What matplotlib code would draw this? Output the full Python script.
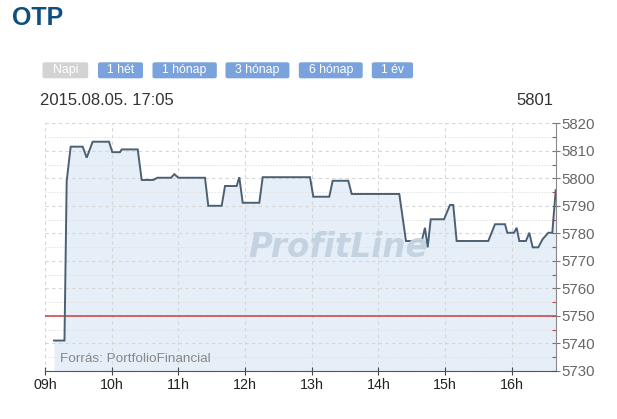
import matplotlib
matplotlib.use("Agg")
import matplotlib.pyplot as plt
from matplotlib.patches import FancyBboxPatch
from matplotlib.ticker import MultipleLocator

plt.rcParams['font.family'] = ['Liberation Sans', 'DejaVu Sans']

# ---- data ----
title = "OTP"
timestamp = "2015.08.05. 17:05"
last_price = "5801"
source_text = "Forrás: PortfolioFinancial"
watermark = "ProfitLine"
buttons = ["Napi", "1 hét", "1 hónap", "3 hónap", "6 hónap", "1 év"]
reference_price = 5750

times = [9.135, 9.292, 9.325, 9.385, 9.565, 9.625, 9.715, 9.960, 10.009, 10.124,
         10.150, 10.390, 10.450, 10.624, 10.684, 10.889, 10.939, 10.999, 11.399, 11.448,
         11.649, 11.699, 11.874, 11.913, 11.964, 12.213, 12.264, 12.973, 13.023, 13.262,
         13.313, 13.547, 13.598, 14.312, 14.412, 14.648, 14.697, 14.738, 14.783, 14.982,
         15.072, 15.121, 15.172, 15.646, 15.747, 15.897, 15.931, 16.031, 16.072, 16.111,
         16.211, 16.261, 16.312, 16.396, 16.462, 16.546, 16.606, 16.657]
prices = [5741, 5741, 5799, 5811.5, 5811.5, 5807.5, 5813.3, 5813.3, 5809.5, 5809.5,
          5810.5, 5810.5, 5799.4, 5799.4, 5800.2, 5800.2, 5801.5, 5800.2, 5800.2, 5790,
          5790, 5797.2, 5797.2, 5800.4, 5791.1, 5791.1, 5800.4, 5800.4, 5793.3, 5793.3,
          5799.1, 5799.1, 5794.3, 5794.3, 5777.2, 5777.2, 5782, 5774.9, 5785.1, 5785.1,
          5790.3, 5790.3, 5777.2, 5777.2, 5783.3, 5783.3, 5780.2, 5780.2, 5782, 5777.2,
          5777.2, 5780.2, 5774.9, 5774.9, 5777.9, 5780.2, 5780.2, 5795.7]
hour_ticks = [9, 10, 11, 12, 13, 14, 15, 16]
hour_labels = ["09h", "10h", "11h", "12h", "13h", "14h", "15h", "16h"]
y_min, y_max = 5730, 5820

W, H = 617, 419
fig = plt.figure(figsize=(W / 100, H / 100), dpi=100)
fig.patch.set_facecolor('white')

def fx(x):
    return x / W

def fy(y):
    return 1 - y / H

# ---- header ----
fig.text(fx(12), fy(25), title, fontsize=18, fontweight='bold', color='#0f4f80',
         ha='left', va='baseline')

btn_x = [(42.5, 88.2), (98, 143), (152.5, 216.8), (225.5, 289.4), (298.8, 362.7), (371.8, 413)]
for i, (lbl, (x0, x1)) in enumerate(zip(buttons, btn_x)):
    col = '#d3d3d3' if i == 0 else '#7aa2dc'
    p = FancyBboxPatch((fx(x0), fy(78.3)), fx(x1) - fx(x0), fy(62.3) - fy(78.3),
                       boxstyle="round,pad=0,rounding_size=0.004",
                       transform=fig.transFigure, facecolor=col, edgecolor='none')
    fig.add_artist(p)
    fig.text(fx((x0 + x1) / 2), fy(70.3), lbl, fontsize=8.8, color='white',
             ha='center', va='center')

fig.text(fx(40), fy(105), timestamp, fontsize=12, color='#333333', ha='left', va='baseline')
fig.text(fx(553), fy(105), last_price, fontsize=12, color='#333333', ha='right', va='baseline')

# ---- chart ----
ax_left, ax_right, ax_top, ax_bottom = 45, 555.7, 123.3, 370.8
ax = fig.add_axes([fx(ax_left), fy(ax_bottom), fx(ax_right) - fx(ax_left),
                   fy(ax_top) - fy(ax_bottom)])
ax.set_facecolor('white')
ax.set_xlim(9.0, times[-1])
ax.set_ylim(y_min, y_max)

ax.fill_between(times, prices, y_min, color='#e6eef7', zorder=1, linewidth=0)
ax.plot(times, prices, color='#4c6073', linewidth=1.4, zorder=4,
        solid_joinstyle='miter')
ax.axhline(reference_price, color='#c84040', linewidth=1.1, zorder=3)

ax.yaxis.set_major_locator(MultipleLocator(10))
ax.yaxis.set_minor_locator(MultipleLocator(5))
ax.set_xticks(hour_ticks)
ax.set_xticklabels(hour_labels)

ax.grid(True, which='major', axis='both', color='#d6d6d6', linestyle=(0, (3, 3)),
        linewidth=0.8, zorder=2)
ax.grid(True, which='minor', axis='y', color='#e2e2e2', linestyle=(0, (1.5, 1.5)),
        linewidth=0.7, zorder=2)
ax.set_axisbelow(False)
for gl in ax.get_xgridlines() + ax.get_ygridlines():
    gl.set_zorder(2)

ax.yaxis.tick_right()
ax.yaxis.set_label_position('right')
for s in ['left', 'top']:
    ax.spines[s].set_visible(False)
ax.spines['right'].set_color('#888888')
ax.spines['bottom'].set_color('#555555')
ax.spines['right'].set_zorder(5)
ax.spines['bottom'].set_zorder(5)

ax.tick_params(axis='y', which='major', direction='inout', length=6, width=0.8,
               color='#777777', labelsize=10.8, labelcolor='#666666', pad=1)
ax.tick_params(axis='y', which='minor', direction='in', length=3, width=0.8,
               color='#d04040')
ax.tick_params(axis='x', which='major', direction='inout', length=6, width=0.8,
               color='#444444', labelsize=10.3, labelcolor='#222222', pad=2)

# watermark and source
ax.text(fx(248), fy(257), watermark, transform=fig.transFigure, fontsize=23.5,
        fontweight='bold', fontstyle='oblique', family='DejaVu Sans',
        color='#c3d2e0', alpha=0.95, ha='left', va='baseline', zorder=6)
ax.text(fx(60), fy(362), source_text, transform=fig.transFigure, fontsize=9.7,
        color='#888888', ha='left', va='baseline', zorder=6)

fig.savefig('out.png', dpi=100, facecolor='white')
